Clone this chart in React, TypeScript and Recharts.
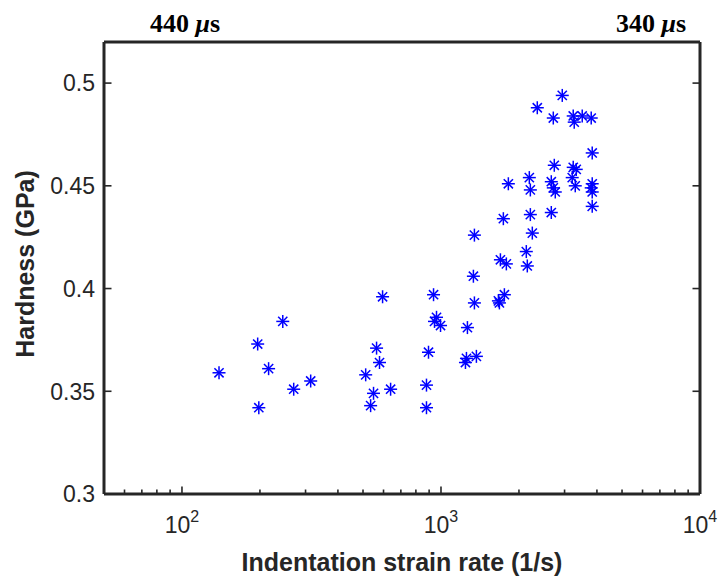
import { Label, Scatter, ScatterChart, XAxis, YAxis } from "recharts";

// Strain rate (1/s) and hardness (GPa)
const strainRate = [
  139, 196, 198, 216, 245, 270, 314,
  512, 564, 579, 549, 535, 639, 595,
  879, 879, 895, 936, 961, 944, 996,
  1265, 1254, 1243, 1370, 1346, 1334, 1346,
  1666, 1681, 1757, 1696, 1788, 1741, 1820,
  2135, 2154, 2252, 2213, 2193, 2213, 2354,
  2666, 2666, 2714, 2762, 2738, 2714, 2939,
  3240, 3269, 3510, 3802, 3240, 3328, 3211, 3299,
  3836, 3836, 3802, 3836, 3836,
];
const hardness = [
  0.359, 0.373, 0.342, 0.361, 0.384, 0.351, 0.355,
  0.358, 0.371, 0.364, 0.349, 0.343, 0.351, 0.396,
  0.353, 0.342, 0.369, 0.397, 0.386, 0.384, 0.382,
  0.381, 0.366, 0.364, 0.367, 0.393, 0.406, 0.426,
  0.394, 0.393, 0.397, 0.414, 0.412, 0.434, 0.451,
  0.418, 0.411, 0.427, 0.436, 0.454, 0.448, 0.488,
  0.437, 0.452, 0.449, 0.447, 0.46, 0.483, 0.494,
  0.484, 0.481, 0.484, 0.483, 0.459, 0.458, 0.454, 0.45,
  0.466, 0.451, 0.449, 0.447, 0.44,
];

const xTicks = [
  60, 70, 80, 90, 100, 200, 300, 400, 500, 600, 700, 800, 900, 1000,
  2000, 3000, 4000, 5000, 6000, 7000, 8000, 9000, 10000,
];
const yTicks = [0.3, 0.35, 0.4, 0.45, 0.5];
const topNotes = ["440 \u03bcs", "340 \u03bcs"];

const INK = "#262626";
const SANS = "'Liberation Sans', Arial, Helvetica, sans-serif";
const SERIF = "'Liberation Serif', 'Times New Roman', serif";

const isDecade = (v: number) => {
  const e = Math.round(Math.log10(v));
  return Math.abs(Math.pow(10, e) - v) < 1e-6;
};

function BottomTick(props: any) {
  const { x, y, payload } = props;
  const v = payload.value;
  const major = isDecade(v);
  return (
    <g>
      <line x1={x} x2={x} y1={y} y2={y - (major ? 7.5 : 4.5)} stroke={INK} strokeWidth={1.6} />
      {major && (
        <text x={x} y={y + 39} textAnchor="middle" fill={INK} fontSize={23} fontFamily={SANS}>
          10
          <tspan dy={-11} fontSize={16}>
            {Math.round(Math.log10(v))}
          </tspan>
        </text>
      )}
    </g>
  );
}

function TopTick(props: any) {
  const { x, y, payload } = props;
  const major = isDecade(payload.value);
  return <line x1={x} x2={x} y1={y} y2={y + (major ? 7.5 : 4.5)} stroke={INK} strokeWidth={1.6} />;
}

function LeftTick(props: any) {
  const { x, y, payload } = props;
  return (
    <g>
      <line x1={x} x2={x + 7.5} y1={y} y2={y} stroke={INK} strokeWidth={1.6} />
      <text x={x - 9} y={y} dy="0.36em" textAnchor="end" fill={INK} fontSize={23} fontFamily={SANS}>
        {String(payload.value)}
      </text>
    </g>
  );
}

function RightTick(props: any) {
  const { x, y } = props;
  return <line x1={x} x2={x - 7.5} y1={y} y2={y} stroke={INK} strokeWidth={1.6} />;
}

// MATLAB-style '*' marker
function Asterisk(props: any) {
  const { cx, cy } = props;
  const r = 6.5;
  const d = 4.6;
  return (
    <g stroke="#0000ff" strokeWidth={1.5}>
      <line x1={cx - r} x2={cx + r} y1={cy} y2={cy} />
      <line x1={cx} x2={cx} y1={cy - r} y2={cy + r} />
      <line x1={cx - d} y1={cy - d} x2={cx + d} y2={cy + d} />
      <line x1={cx - d} y1={cy + d} x2={cx + d} y2={cy - d} />
    </g>
  );
}

export default function App() {
  const points = strainRate.map((rate, i) => ({ rate, h: hardness[i] }));

  return (
    <div style={{ position: "absolute", left: 0, top: 0, background: "#fff" }}>
      <ScatterChart width={719} height={577} margin={{ top: 0, right: 0, bottom: 0, left: 0 }}>
        <XAxis
          xAxisId="b"
          dataKey="rate"
          type="number"
          scale="log"
          domain={[50, 10000]}
          allowDataOverflow
          ticks={xTicks}
          interval={0}
          height={83}
          tickSize={0}
          tickMargin={0}
          tickLine={false}
          tick={<BottomTick />}
          axisLine={{ stroke: INK, strokeWidth: 3 }}
        >
          <Label
            content={(p: any) => {
              const vb = p.viewBox;
              return (
                <text
                  x={vb.x + vb.width / 2}
                  y={vb.y + 77}
                  textAnchor="middle"
                  fill={INK}
                  fontSize={25}
                  fontWeight="bold"
                  fontFamily={SANS}
                >
                  Indentation strain rate (1/s)
                </text>
              );
            }}
          />
        </XAxis>
        <XAxis
          xAxisId="t"
          orientation="top"
          type="number"
          scale="log"
          domain={[50, 10000]}
          allowDataOverflow
          ticks={xTicks}
          interval={0}
          height={42}
          tickSize={0}
          tickMargin={0}
          tickLine={false}
          tick={<TopTick />}
          axisLine={{ stroke: INK, strokeWidth: 3 }}
        >
          <Label
            content={() => (
              <g fill="#000" fontSize={26} fontWeight="bold" fontFamily={SERIF}>
                {topNotes.map((note, i) => (
                  <text key={note} x={i === 0 ? 185 : 651} y={32} textAnchor="middle">
                    {note.split(" ")[0]}{" "}
                    <tspan fontStyle="italic">{note.split(" ")[1][0]}</tspan>
                    {note.split(" ")[1].slice(1)}
                  </text>
                ))}
              </g>
            )}
          />
        </XAxis>
        <YAxis
          yAxisId="l"
          dataKey="h"
          type="number"
          domain={[0.3, 0.52]}
          allowDataOverflow
          ticks={yTicks}
          interval={0}
          width={104}
          tickSize={0}
          tickMargin={0}
          tickLine={false}
          tick={<LeftTick />}
          axisLine={{ stroke: INK, strokeWidth: 3 }}
        >
          <Label
            content={(p: any) => {
              const vb = p.viewBox;
              const cx = vb.x + 34;
              const cy = vb.y + vb.height / 2 - 4;
              return (
                <text
                  x={cx}
                  y={cy}
                  transform={`rotate(-90, ${cx}, ${cy})`}
                  textAnchor="middle"
                  fill={INK}
                  fontSize={25}
                  fontWeight="bold"
                  fontFamily={SANS}
                >
                  Hardness (GPa)
                </text>
              );
            }}
          />
        </YAxis>
        <YAxis
          yAxisId="r"
          orientation="right"
          type="number"
          domain={[0.3, 0.52]}
          allowDataOverflow
          ticks={yTicks}
          interval={0}
          width={19}
          tickSize={0}
          tickMargin={0}
          tickLine={false}
          tick={<RightTick />}
          axisLine={{ stroke: INK, strokeWidth: 3 }}
        />
        <Scatter
          data={points}
          xAxisId="b"
          yAxisId="l"
          shape={<Asterisk />}
          isAnimationActive={false}
        />
      </ScatterChart>
    </div>
  );
}
